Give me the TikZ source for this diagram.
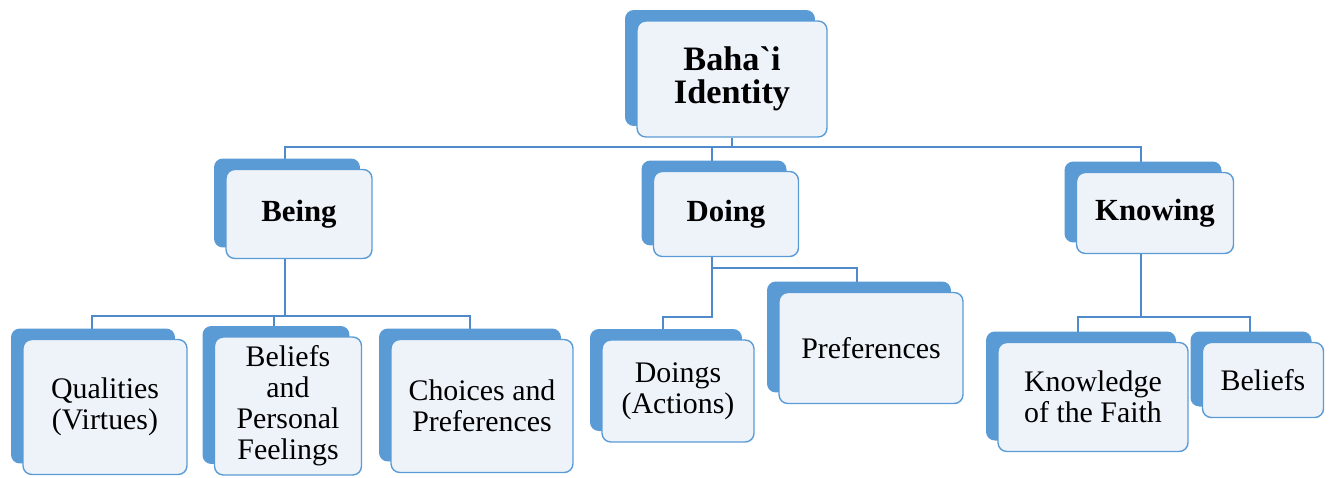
\documentclass[tikz,border=0pt]{standalone}
\usepackage{fontspec}
\setmainfont{Liberation Serif}
\newfontfamily\plainserif{Liberation Serif}[Ligatures=ResetAll]
\usepackage{tikz}
\usetikzlibrary{shadows,backgrounds}

\definecolor{idblue}{HTML}{5B9BD5}
\definecolor{idpale}{HTML}{EEF3FA}
\definecolor{idline}{HTML}{4F8ACB}

\tikzset{
  idbox/.style={draw=idblue, line width=0.8pt, fill=idpale, rounded corners=5pt,
    align=center, font=\fontsize{17}{17.6}\selectfont, inner sep=2pt,
    copy shadow={shadow xshift=-0.24cm, shadow yshift=0.22cm, fill=idblue, draw=none, opacity=1}},
  idhead/.style={idbox, font=\fontsize{17.5}{18}\selectfont\bfseries},
  idlink/.style={draw=idline, line width=1pt}
}

\begin{document}
\begin{tikzpicture}
            [x=0.02cm, y=-0.02cm]
            \useasboundingbox (0, 0) rectangle (1331, 477);
            % top
            \node [idhead, font=\fontsize{19.5}{18.5}\selectfont\bfseries, minimum width=3.8cm, minimum height=2.32cm] (root) at (732, 79) {{\plainserif Baha`i}\\Identity};
            % second row
            \node [idhead, minimum width=2.92cm, minimum height=1.78cm] (being) at (299, 214) {Being};
            \node [idhead, minimum width=2.9cm, minimum height=1.7cm] (doing) at (726, 214) {Doing};
            \node [idhead, minimum width=3.14cm, minimum height=1.62cm] (knowing) at (1155, 213) {Knowing};
            % third row
            \node [idbox, minimum width=3.28cm, minimum height=2.7cm] (qualities) at (105, 407) {Qualities\\(Virtues)};
            \node [idbox, minimum width=2.94cm, minimum height=2.76cm] (feelings) at (288, 406) {Beliefs\\and\\Personal\\Feelings};
            \node [idbox, minimum width=3.64cm, minimum height=2.66cm] (choices) at (482, 406) {Choices and\\Preferences};
            \node [idbox, minimum width=3.04cm, minimum height=2.04cm] (doings) at (678, 391) {Doings\\(Actions)};
            \node [idbox, minimum width=3.68cm, minimum height=2.22cm] (prefs) at (871, 348) {Preferences};
            \node [idbox, minimum width=3.8cm, minimum height=2.18cm] (faith) at (1093, 397) {Knowledge\\of the Faith};
            \node [idbox, minimum width=2.42cm, minimum height=1.5cm] (beliefs) at (1263, 380) {Beliefs};
            % connectors
            \begin{scope}[on background layer]
            \draw [idlink] (root.south) -- ++(0, 9) -| ([xshift=-0.28cm]being.north);
            \draw [idlink] (root.south) -- ++(0, 9) -| ([xshift=-0.28cm]doing.north);
            \draw [idlink] (root.south) -- ++(0, 9) -| ([xshift=-0.28cm]knowing.north);
            \draw [idlink] ([xshift=-0.28cm]being.south) -- ++(0, 57) -| ([xshift=-0.26cm]qualities.north);
            \draw [idlink] ([xshift=-0.28cm]being.south) -- ++(0, 57) -| ([xshift=-0.28cm]feelings.north);
            \draw [idlink] ([xshift=-0.28cm]being.south) -- ++(0, 57) -| ([xshift=-0.24cm]choices.north);
            \draw [idlink] ([xshift=-0.28cm]doing.south) -- ++(0, 60) -| ([xshift=-0.3cm]doings.north);
            \draw [idlink] ([xshift=-0.28cm]doing.south) -- ++(0, 11) -| ([xshift=-0.28cm]prefs.north);
            \draw [idlink] ([xshift=-0.28cm]knowing.south) -- ++(0, 63) -| ([xshift=-0.3cm]faith.north);
            \draw [idlink] ([xshift=-0.28cm]knowing.south) -- ++(0, 63) -| ([xshift=-0.26cm]beliefs.north);
            \end{scope}
        \end{tikzpicture}
\end{document}
